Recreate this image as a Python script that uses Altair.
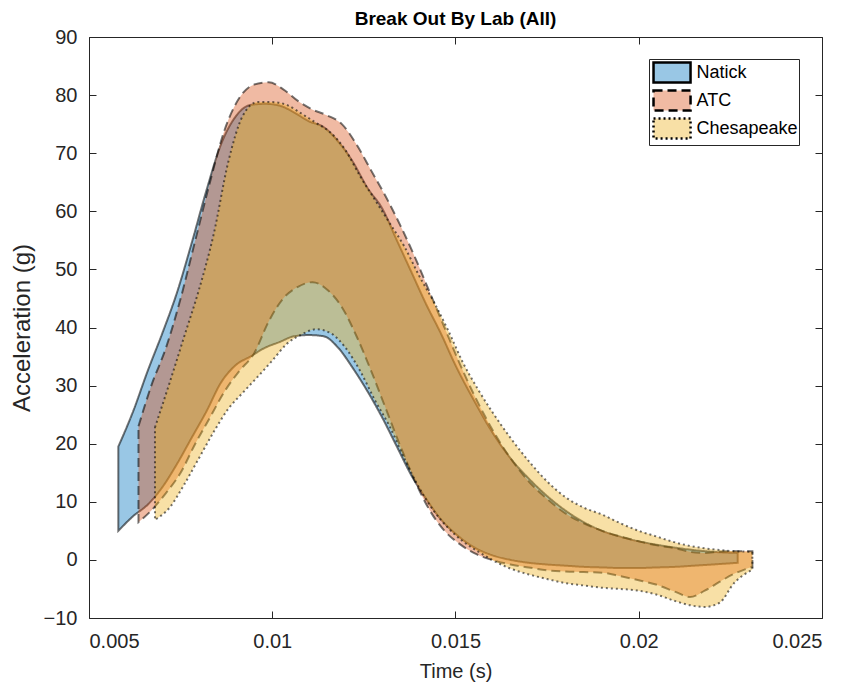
import altair as alt
import pandas as pd

labs = ["Natick", "ATC", "Chesapeake"]
fill_colors = ["#0072BD", "#D95319", "#EDB120"]
legend_fill_colors = ["#99C7E5", "#F0BAA3", "#F8E0A6"]
dash_styles = [[1, 0], [9, 5], [2, 3]]

natick_t = [0.0058, 0.0062, 0.0066, 0.0070, 0.0074, 0.0078, 0.0082, 0.0086, 0.0090, 0.0094,
            0.0098, 0.0102, 0.0106, 0.0110, 0.0114, 0.0118, 0.0122, 0.0126, 0.0130, 0.0134,
            0.0138, 0.0142, 0.0146, 0.0150, 0.0155, 0.0160, 0.0165, 0.0170, 0.0175, 0.0180,
            0.0185, 0.0190, 0.0195, 0.0200, 0.0205, 0.0210, 0.0215, 0.0220, 0.0227]
natick_upper = [19.5, 25.5, 32.5, 39, 46, 54.5, 63.5, 71.5, 76.3, 78.3,
                78.5, 78.2, 77, 75.5, 74.5, 72, 68.5, 64, 60.5, 55,
                49.5, 44, 39, 33.5, 27.5, 22, 17.5, 14, 11, 8.5,
                6.5, 5, 4, 3.2, 2.6, 2.1, 1.7, 1.4, 1.2]
natick_lower = [5, 7.5, 9.5, 12.5, 16.5, 21, 25.5, 30.5, 33.5, 35,
                36.5, 37.5, 38.5, 38.7, 38.5, 36.5, 33, 29, 24.5, 19.5,
                14.5, 10.5, 7, 4.5, 2.2, 0.8, 0, -0.5, -0.8, -1,
                -1.2, -1.3, -1.4, -1.4, -1.3, -1.2, -1, -0.8, -0.5]

atc_t = [0.00635, 0.0067, 0.0071, 0.0075, 0.0079, 0.0083, 0.0087, 0.0091, 0.0095, 0.0099,
         0.0103, 0.0107, 0.0111, 0.0115, 0.0119, 0.0123, 0.0127, 0.0131, 0.0135, 0.0139,
         0.0143, 0.0147, 0.0151, 0.0155, 0.0160, 0.0165, 0.0170, 0.0175, 0.0180, 0.0185,
         0.0190, 0.0195, 0.0200, 0.0205, 0.0210, 0.0214, 0.0218, 0.0222, 0.0226, 0.0231]
atc_upper = [23, 30, 36.5, 45, 55, 65, 74, 79.5, 81.8, 82.2,
             81, 79, 77.5, 76.5, 75, 71.5, 67, 62.5, 57.5, 52,
             46, 40, 34, 28.5, 22.5, 17.5, 13.5, 10.5, 8, 6.3,
             5, 4, 3.2, 2.5, 2, 1.4, 1.2, 1.4, 1.5, 1.5]
atc_lower = [6.5, 8.5, 11.5, 15, 20, 24.5, 29, 32.5, 35.5, 41,
             45, 47, 47.8, 46.5, 43.5, 38.5, 32.5, 26, 19.5, 13.5,
             8.5, 5, 2.8, 1.2, 0, -0.8, -1.3, -1.8, -2, -2.1,
             -2.2, -2.8, -3.5, -4.3, -5.5, -6.4, -5.3, -3.8, -2.4, -1.2]

ches_t = [0.0068, 0.0072, 0.0076, 0.0080, 0.0084, 0.0088, 0.0092, 0.0096, 0.0100, 0.0104,
          0.0108, 0.0112, 0.0116, 0.0120, 0.0124, 0.0128, 0.0132, 0.0136, 0.0140, 0.0144,
          0.0148, 0.0152, 0.0156, 0.0160, 0.0165, 0.0170, 0.0175, 0.0180, 0.0185, 0.0190,
          0.0195, 0.0200, 0.0205, 0.0210, 0.0214, 0.0218, 0.0222, 0.0226, 0.0231]
ches_upper = [22.8, 30.5, 38.5, 46.5, 56, 68.5, 76.5, 78.8, 78.8, 78.3,
              76.8, 75.2, 73.5, 70.5, 66, 62, 58, 54, 49, 44.5,
              39.5, 34, 29.5, 25.5, 21, 17, 13.5, 10.8, 9, 7.8,
              6.3, 5, 4, 3, 2.4, 2, 1.7, 1.5, 1.4]
ches_lower = [6.9, 9, 13, 17.5, 22, 26, 28.8, 31.5, 34.3, 37.2,
              38.8, 39.7, 39, 36.5, 32.5, 27.5, 23, 17.5, 12.5, 8.5,
              5.5, 3.2, 1.5, 0, -1.5, -2.5, -3.3, -4, -4.4, -4.8,
              -5, -5.3, -6, -7.1, -7.8, -8.1, -7.4, -4, -1.7]

x_ticks = [0.005, 0.01, 0.015, 0.02, 0.025]
y_ticks = list(range(-10, 91, 10))

series = [
    ("Natick", natick_t, natick_upper, natick_lower),
    ("ATC", atc_t, atc_upper, atc_lower),
    ("Chesapeake", ches_t, ches_upper, ches_lower),
]

FONT = "Liberation Sans"
INK = "#262626"
LEG_X = 560
LEG_Y = 22
LEG_PAD = 1
LEG_FONT = 18
LEG_ROWPAD = -3
SYM_SIZE = 480
SYM_STROKE = 2.5
LABEL_OFFSET = 21.5
SWATCH = "M-0.82,-0.913L2.56,-0.913L2.56,0.913L-0.82,0.913Z"

x_scale = alt.Scale(domain=[0.005, 0.025], nice=False, zero=False)
y_scale = alt.Scale(domain=[-10, 90], nice=False, zero=False)


def grid_axis(orient, values, labels, title=None, fmt=None, label_size=20, title_size=20):
    kw = dict(orient=orient, values=values, labels=labels, ticks=False, domain=False,
              grid=True, gridDash=[7, 3000], gridColor=INK, gridWidth=1, gridOpacity=1,
              labelFont=FONT, labelFontSize=label_size, labelColor=INK,
              titleFont=FONT, titleFontSize=title_size, titleColor=INK,
              titleFontWeight="normal")
    kw["title"] = title
    if fmt is not None:
        kw["format"] = fmt
    return alt.Axis(**kw)


layers = []
for i, (lab, t, up, lo) in enumerate(series):
    df = pd.DataFrame({"t": t, "upper": up, "lower": lo, "lab": lab})
    if i == 0:
        xa = grid_axis("bottom", x_ticks, True, "Time (s)", ".3~f", 20, 20)
        xa.labelPadding = 13
        xa.titlePadding = 10
        ya = grid_axis("left", y_ticks, True, "Acceleration (g)", None, 20, 24)
        ya.labelPadding = 12
        ya.titlePadding = 9
    else:
        xa = None
        ya = None
    # outline-only legend: rows 0..i are laid out, only row i is stroked
    shown = labs[: i + 1]
    outline_legend = alt.Legend(
        title=None, orient="none", legendX=LEG_X, legendY=LEG_Y, values=shown,
        padding=LEG_PAD, labelFont=FONT, labelFontSize=LEG_FONT, labelExpr="''",
        labelOffset=LABEL_OFFSET, rowPadding=LEG_ROWPAD,
        symbolType=SWATCH, symbolSize=SYM_SIZE, symbolFillColor="transparent",
        symbolStrokeWidth=SYM_STROKE, symbolDash=dash_styles[i],
        symbolOpacity=1, zindex=2 + i,
    )
    # an extra unused key keeps each outline scale's domain distinct from the fill legend's
    stroke_scale = alt.Scale(domain=shown + ["~" + lab],
                             range=["transparent"] * i + ["black", "transparent"])
    layer = alt.Chart(df).mark_area(
        fillOpacity=0.4, strokeOpacity=0.55, strokeWidth=2,
        strokeDash=dash_styles[i], interpolate="monotone",
    ).encode(
        x=alt.X("t:Q", scale=x_scale, axis=xa),
        y=alt.Y("upper:Q", scale=y_scale, axis=ya),
        y2="lower:Q",
        fill=alt.Fill("lab:N", scale=alt.Scale(domain=labs, range=fill_colors), legend=None),
        stroke=alt.Stroke("lab:N", scale=stroke_scale, legend=outline_legend),
    )
    layers.append(layer)

axis_df = pd.DataFrame({"t": natick_t, "upper": natick_upper})
top_right = alt.Chart(axis_df).mark_line(opacity=0).encode(
    x=alt.X("t:Q", scale=x_scale, axis=grid_axis("top", x_ticks, False)),
    y=alt.Y("upper:Q", scale=y_scale, axis=grid_axis("right", y_ticks, False)),
)
layers.append(top_right)

main_legend = alt.Legend(
    title=None, orient="none", legendX=LEG_X, legendY=LEG_Y,
    strokeColor=INK, fillColor="white", padding=LEG_PAD,
    labelFont=FONT, labelFontSize=LEG_FONT, labelColor="black", labelOffset=LABEL_OFFSET,
    symbolType=SWATCH, symbolSize=SYM_SIZE, symbolStrokeWidth=SYM_STROKE,
    symbolStrokeColor="transparent", symbolOpacity=1,
    rowPadding=LEG_ROWPAD, zindex=1,
)
legend_df = pd.DataFrame({"lab": labs, "t": [natick_t[0]] * 3, "upper": [natick_upper[0]] * 3})
legend_layer = alt.Chart(legend_df).mark_point(filled=True, size=0, strokeWidth=0).encode(
    x=alt.X("t:Q", scale=x_scale, axis=None),
    y=alt.Y("upper:Q", scale=y_scale, axis=None),
    fill=alt.Fill("lab:N", scale=alt.Scale(domain=labs, range=legend_fill_colors),
                  legend=main_legend),
)
layers.append(legend_layer)

chart = alt.layer(*layers).resolve_axis(x="independent", y="independent").resolve_scale(
    fill="independent", stroke="independent"
).properties(
    width=733, height=581,
    padding={"left": 81, "top": 29, "right": 12, "bottom": 72},
    autosize=alt.AutoSizeParams(type="none"),
    title=alt.TitleParams("Break Out By Lab (All)", font=FONT, fontSize=19,
                          fontWeight="bold", color="black", offset=-2),
).configure_view(stroke=INK, strokeWidth=1)

chart.save("out.html", embed_options={"renderer": "svg", "actions": False})
